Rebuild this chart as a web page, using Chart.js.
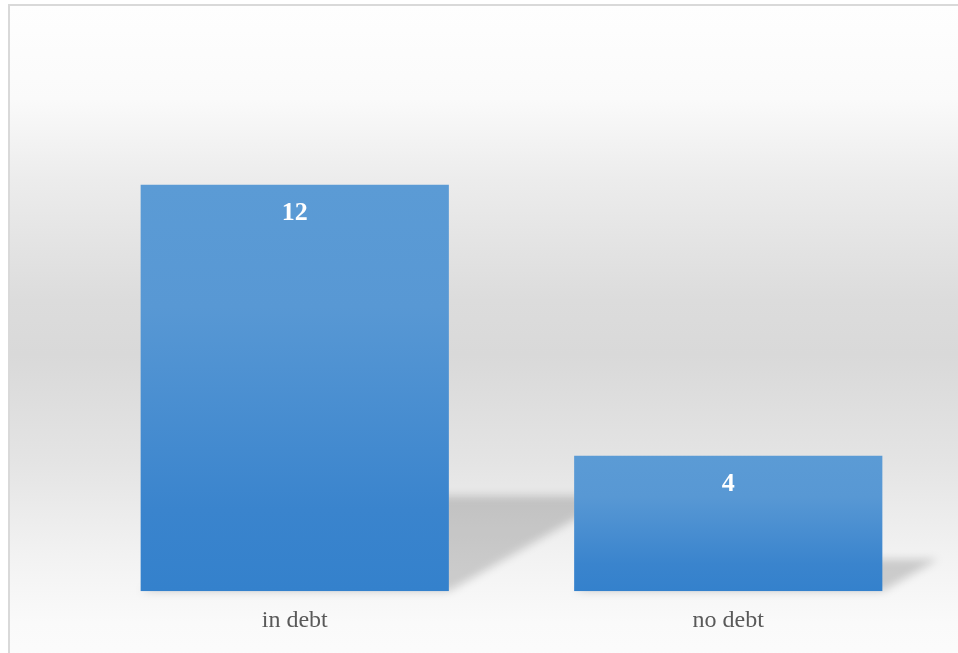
<!DOCTYPE html>
<html>
<head>
<meta charset="utf-8">
<script src="https://cdn.jsdelivr.net/npm/chart.js@4"></script>
<style>
  html, body { margin: 0; padding: 0; background: #ffffff; overflow: hidden; }
  #frame {
    position: absolute; left: 8px; top: 4px; width: 970px; height: 670px;
    border-left: 2px solid #d9d9d9; border-top: 2px solid #d9d9d9;
    background: linear-gradient(to bottom, #fefefe 0%, #fafafa 14%, #ececec 26%, #dcdcdc 44%, #d9d9d9 52%, #e4e4e4 68%, #f2f2f2 82%, #fafafa 92%, #fcfcfc 100%);
  }
  #wrap { position: absolute; left: 0; top: 0; width: 958px; height: 653px; }
</style>
</head>
<body>
<div id="frame"></div>
<div id="wrap"><canvas id="myChart"></canvas></div>
<script>
// debt counts
const categories = ['in debt', 'no debt'];
const counts = [12, 4];
const yMax = 14;

// perspective shadow cast behind each bar
const barShadow = {
  id: 'barShadow',
  beforeDatasetsDraw(chart) {
    const ctx = chart.ctx;
    chart.getDatasetMeta(0).data.forEach(bar => {
      const { x, y, base, width } = bar.getProps(['x', 'y', 'base', 'width'], true);
      const h = base - y;
      const dx = h * 0.41, dy = h * 0.235;
      ctx.save();
      ctx.filter = 'blur(4px)';
      ctx.fillStyle = 'rgba(0,0,0,0.17)';
      ctx.beginPath();
      ctx.moveTo(x - width / 2, base);
      ctx.lineTo(x + width / 2, base);
      ctx.lineTo(x + width / 2 + dx, base - dy);
      ctx.lineTo(x - width / 2 + dx, base - dy);
      ctx.closePath();
      ctx.fill();
      ctx.restore();
    });
  }
};

// value written inside the top of each bar
const valueLabels = {
  id: 'valueLabels',
  afterDatasetsDraw(chart) {
    const ctx = chart.ctx;
    const ds = chart.data.datasets[0];
    chart.getDatasetMeta(0).data.forEach((bar, i) => {
      ctx.save();
      ctx.font = 'bold 26px "Liberation Serif", "Times New Roman", serif';
      ctx.fillStyle = '#ffffff';
      ctx.textAlign = 'center';
      ctx.textBaseline = 'middle';
      ctx.fillText(String(ds.data[i]), bar.x, bar.y + 29);
      ctx.restore();
    });
  }
};

function barFill(context) {
  const chart = context.chart;
  const yScale = chart.scales.y;
  if (!yScale || context.dataIndex === undefined) return '#5b9bd5';
  const top = yScale.getPixelForValue(context.raw);
  const bottom = yScale.getPixelForValue(0);
  if (!isFinite(top) || !isFinite(bottom) || top === bottom) return '#5b9bd5';
  const g = chart.ctx.createLinearGradient(0, top, 0, bottom);
  g.addColorStop(0, '#5b9bd5');
  g.addColorStop(0.3, '#5898d4');
  g.addColorStop(0.8, '#3a84cd');
  g.addColorStop(1, '#3481cc');
  return g;
}

const ctx = document.getElementById('myChart');

new Chart(ctx, {
  type: 'bar',
  data: {
    labels: categories,
    datasets: [{
      data: counts,
      backgroundColor: barFill,
      borderWidth: 0,
      barPercentage: 0.711,
      categoryPercentage: 1.0
    }]
  },
  options: {
    responsive: true,
    maintainAspectRatio: false,
    animation: false,
    layout: { padding: { left: 78, right: 13, top: 117, bottom: 11 } },
    plugins: {
      legend: { display: false },
      tooltip: { enabled: false }
    },
    scales: {
      x: {
        grid: { display: false },
        border: { display: false },
        ticks: {
          color: '#595959',
          padding: 7,
          font: { family: '"Liberation Serif", "Times New Roman", serif', size: 24 }
        }
      },
      y: {
        display: false,
        min: 0,
        max: yMax
      }
    }
  },
  plugins: [barShadow, valueLabels]
});
</script>
</body>
</html>
